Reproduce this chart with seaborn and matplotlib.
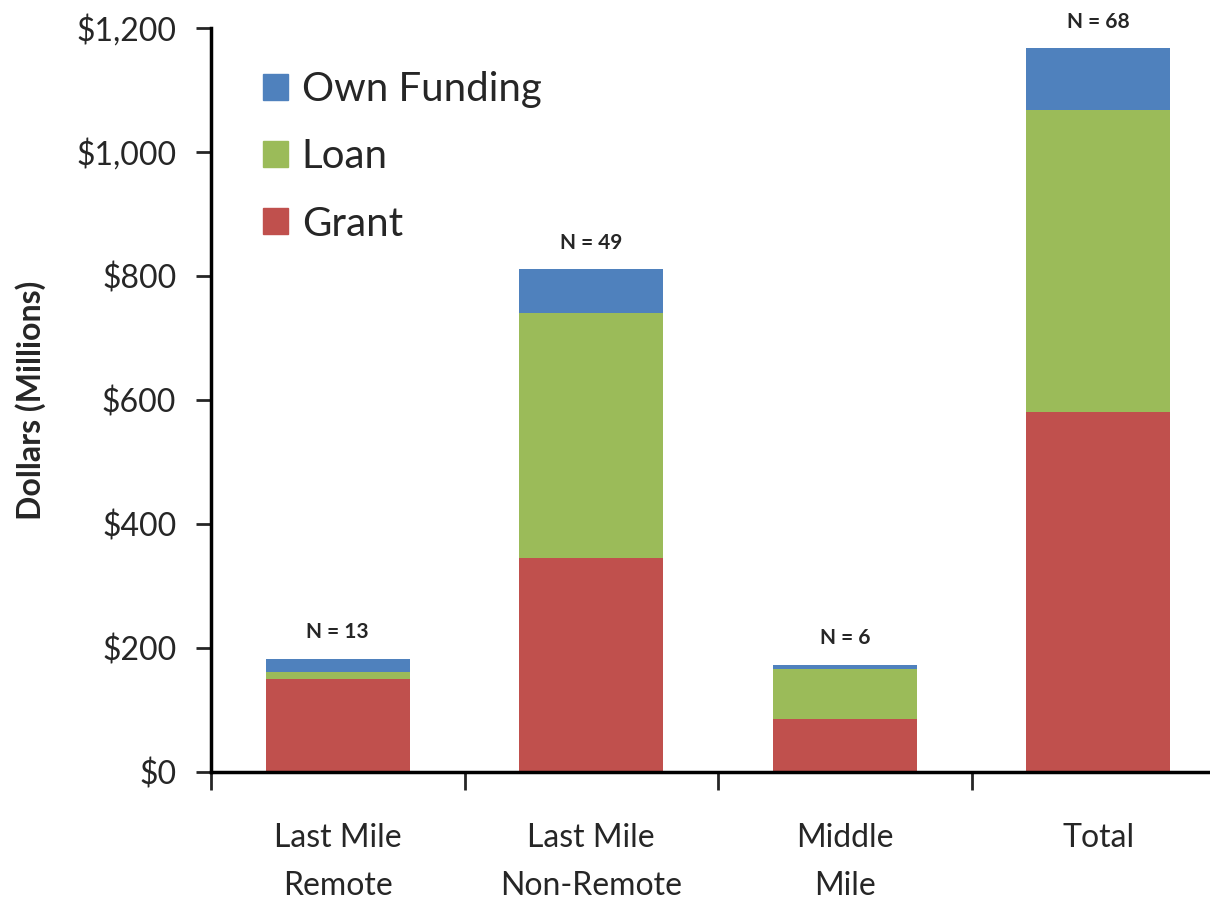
import numpy as np
import pandas as pd
import seaborn as sns
import matplotlib.pyplot as plt
from matplotlib.patches import Patch
from matplotlib.ticker import FuncFormatter, FixedLocator

# data (millions of dollars)
categories = ["Last Mile\nRemote", "Last Mile\nNon-Remote", "Middle\nMile", "Total"]
grant = [150, 345, 85, 581]
loan = [11, 395, 81, 487]
own_funding = [21, 71, 7, 99]
n_labels = ["N = 13", "N = 49", "N = 6", "N = 68"]

colors = {"Grant": "#C0504D", "Loan": "#9BBB59", "Own Funding": "#4F81BD"}

df = pd.DataFrame({"category": categories, "Grant": grant, "Loan": loan, "Own Funding": own_funding})
df["lvl_grant"] = df["Grant"]
df["lvl_loan"] = df["Grant"] + df["Loan"]
df["lvl_own"] = df["lvl_loan"] + df["Own Funding"]

sns.set_style("white")
plt.rcParams["font.family"] = ["Lato", "DejaVu Sans"]

fig = plt.figure(figsize=(12.1, 8.99), dpi=100)
ax = fig.add_axes([211 / 1210, 1 - 772 / 899, 1014 / 1210, (772 - 28) / 899])

# stacked bars: draw cumulative levels, tallest first
for col, name in [("lvl_own", "Own Funding"), ("lvl_loan", "Loan"), ("lvl_grant", "Grant")]:
    sns.barplot(data=df, x="category", y=col, color=colors[name], width=0.57,
                saturation=1, ax=ax, linewidth=0)

ax.set_xlim(-0.5, 3.5)
ax.set_ylim(0, 1200)
ax.set_yticks(np.arange(0, 1201, 200))
ax.yaxis.set_major_formatter(FuncFormatter(lambda v, p: "${:,.0f}".format(v)))
ax.tick_params(axis="y", labelsize=23, length=11, width=2, direction="out", pad=14, left=True)

# boundary tick marks on the x axis, labels centred on categories
ax.xaxis.set_major_locator(FixedLocator([-0.5, 0.5, 1.5, 2.5, 3.5]))
ax.set_xticklabels([])
ax.xaxis.set_minor_locator(FixedLocator(range(len(categories))))
ax.set_xticklabels(categories, minor=True, fontsize=23, linespacing=1.75)
ax.tick_params(axis="x", which="major", length=13, width=2, direction="out", bottom=True)
ax.tick_params(axis="x", which="minor", length=0, pad=37)

for side in ["top", "right"]:
    ax.spines[side].set_visible(False)
for side in ["left", "bottom"]:
    ax.spines[side].set_linewidth(2.5)
    ax.spines[side].set_color("black")

ax.set_xlabel("")
ax.set_ylabel("Dollars (Millions)", fontsize=23, fontweight="bold")
ax.yaxis.set_label_coords((46 - 211) / 1014, 0.5)

# N labels above each bar
for i, (lvl, lab) in enumerate(zip(df["lvl_own"], n_labels)):
    ax.annotate(lab, (i, lvl), xytext=(0, 12), textcoords="offset points",
                ha="center", va="bottom", fontsize=15, fontweight="bold")

handles = [Patch(color=colors[k]) for k in ["Own Funding", "Loan", "Grant"]]
ax.legend(handles, ["Own Funding", "Loan", "Grant"], loc="upper left",
          bbox_to_anchor=(0.051, 0.942), frameon=False, fontsize=29,
          borderpad=0, borderaxespad=0,
          handlelength=0.62, handleheight=0.62, handletextpad=0.35, labelspacing=0.75)

fig.savefig("out.png", dpi=100)
